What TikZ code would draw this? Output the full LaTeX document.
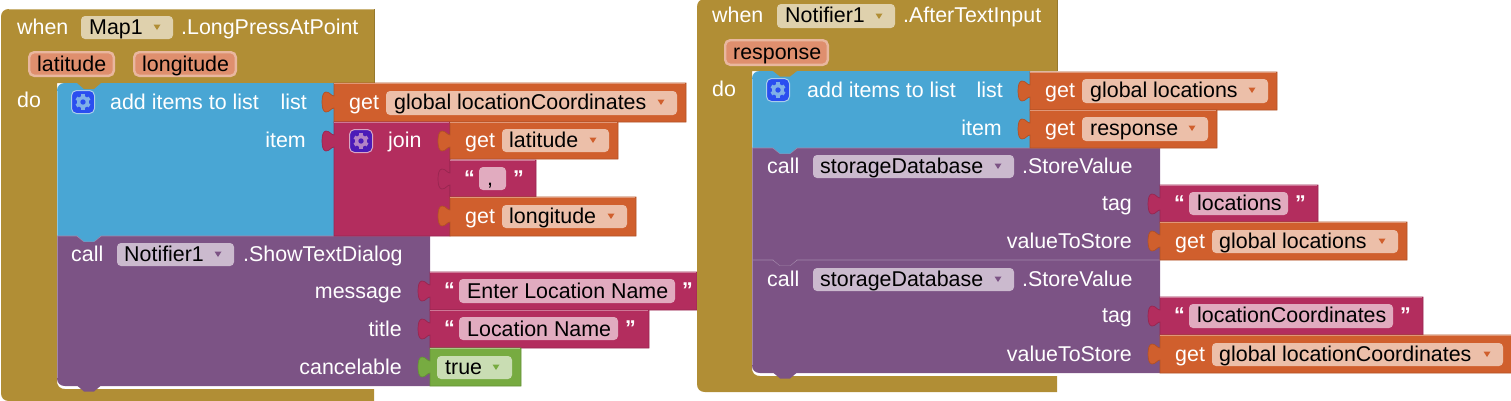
\documentclass[tikz,border=0pt]{standalone}
\usepackage{fontspec}
\setmainfont{Liberation Sans}
\usetikzlibrary{calc}
\definecolor{goldblock}{HTML}{B18E35}
\definecolor{goldfield}{HTML}{DFD1AD}
\definecolor{blueblock}{HTML}{49A6D4}
\definecolor{callblock}{HTML}{7C5385}
\definecolor{callfield}{HTML}{CBBACE}
\definecolor{getblock}{HTML}{D05F2D}
\definecolor{getfield}{HTML}{ECBFA9}
\definecolor{textblock}{HTML}{B32D5E}
\definecolor{textfield}{HTML}{E1ABBF}
\definecolor{logicblock}{HTML}{77AB41}
\definecolor{logicfield}{HTML}{C9DDB3}
\definecolor{pillfill}{HTML}{DF8F6E}
\definecolor{pillline}{HTML}{E9B79F}
\definecolor{iconblue}{HTML}{2A4EF0}
\definecolor{iconblueline}{HTML}{A9CDEB}
\definecolor{gearblue}{HTML}{7FB0E8}
\definecolor{iconviolet}{HTML}{4A1BB8}
\definecolor{iconvioletline}{HTML}{D8A6C4}
\definecolor{gearviolet}{HTML}{B283C6}
\tikzset{
	lbl/.style={inner sep=0pt, text=white, anchor=base west},
	lblright/.style={inner sep=0pt, text=white, anchor=base east},
	val/.style={inner sep=0pt, text=black, anchor=base west},
	quot/.style={inner sep=0pt, text=white, anchor=base west, font=\fontsize{21.4}{24}\selectfont\bfseries}
}
% event block: left, top, right, head bottom, stem x, bar top, bottom
\def\eventblock(#1,#2,#3,#4,#5,#6,#7){
	\fill[goldblock] (#3,#2) -- (#3,#4) -- (#5,#4) -- (#5,{#6-8}) .. controls (#5,{#6-3}) and ({#5+3},#6) .. ({#5+8},#6) -- (#3,#6) -- (#3,#7) -- ({#1+8},#7) .. controls ({#1+3},#7) and (#1,{#7-3}) .. (#1,{#7-8}) -- (#1,{#2+8}) .. controls (#1,{#2+3}) and ({#1+3},#2) .. ({#1+8},#2) -- cycle;
	\draw[goldblock!65!white, line width=0.8] ({#1+8},{#2+0.5}) -- (#3,{#2+0.5});
	\draw[goldblock!85!black, line width=0.8] (#3,#2) -- (#3,#4);
}
% value block with a puzzle tab on the left
\def\valueblock[#1](#2,#3)(#4,#5){
	\draw[fill=#1, draw=#1!85!black, line width=0.7] (#2,#3) -- (#4,#3) -- (#4,#5) -- (#2,#5) -- (#2,{#3+25})
		.. controls ({#2-3},{#3+25}) and ({#2-4},{#3+29}) .. ({#2-8},{#3+29})
		.. controls ({#2-11},{#3+29}) and ({#2-12},{#3+24}) .. ({#2-12},{#3+19})
		.. controls ({#2-12},{#3+14}) and ({#2-11},{#3+9}) .. ({#2-8},{#3+9})
		.. controls ({#2-4},{#3+9}) and ({#2-3},{#3+13}) .. (#2,{#3+13}) -- cycle;
	\draw[#1!65!white, line width=0.8] (#2,{#3+0.5}) -- ({#4-1},{#3+0.5});
}
% small tab under a stack block, x centre and y of the edge
\def\stacktab[#1](#2,#3){\fill[#1] ({#2-12},#3) -- ({#2-5},{#3+6}) -- ({#2+5},{#3+6}) -- ({#2+12},#3) -- cycle;}
\def\stackline[#1](#2,#3,#4,#5){\draw[#1!70!white, line width=0.9] (#2,#3) -- ({#5-12},#3) -- ({#5-5},{#3+5.5}) -- ({#5+5},{#3+5.5}) -- ({#5+12},#3) -- (#4,#3);}
\def\slot[#1](#2,#3)(#4,#5){\fill[#1, rounded corners=4] (#2,#3) rectangle (#4,#5);}
\def\droparrow[#1](#2,#3){\fill[#1] ({#2-3.5},{#3-2.5}) -- ({#2+3.5},{#3-2.5}) -- (#2,{#3+3}) -- cycle;}
\def\paramslot(#1,#2,#3,#4){\draw[fill=pillfill, draw=pillline, line width=2.4, rounded corners=5] ({#1+1.2},{#2+1.2}) rectangle ({#3-1.2},{#4-1.2});}
\def\gearicon[#1,#2,#3](#4,#5){
	\draw[fill=#1, draw=#2, line width=1, rounded corners=5] ({#4-11.5},{#5-11.5}) rectangle ({#4+11.5},{#5+11.5});
	\foreach \a in {30,90,...,330} \draw[#3, line width=3.6] ($(#4,#5)+(\a:4)$) -- ($(#4,#5)+(\a:7.6)$);
	\fill[#3] (#4,#5) circle (6);
	\fill[#1] (#4,#5) circle (2.7);
}

\begin{document}
\begin{tikzpicture}[x=1pt, y=-1pt, font=\fontsize{21.4}{24}\selectfont]
	\useasboundingbox (0,0) rectangle (1511,400);
	%%%%% LEFT BLOCK %%%%%
	\eventblock(1,9,374,83,57,389,401);
	\node[lbl] (whenA) at (17,34) {when};
	\slot[goldfield](81,16)(173,39);
	\node[val] (mapA) at (89,34) {Map1};
	\droparrow[goldblock](157,27);
	\node[lbl] (eventA) at (181,34) {.LongPressAtPoint};
	\paramslot(28,51,115,77);
	\node[val] (latA) at (37,71) {latitude};
	\paramslot(133,51,237,77);
	\node[val] (lonA) at (142,71) {longitude};
	\node[lbl] (doA) at (17,107) {do};

	\fill[blueblock] (57,236) -- (57,91) .. controls (57,86) and (60,83) .. (65,83) -- (334,83) -- (334,236) -- cycle;
	\fill[goldblock] (77,83) -- (84,89) -- (94,89) -- (101,83) -- cycle;
	\draw[blueblock!65!white, line width=0.9] (57,236) -- (57,91);
	\gearicon[iconblue,iconblueline,gearblue](83,102);
	\node[lbl] (addA) at (110,109) {add items to list};
	\node[lblright] (listA) at (307,109) {list};
	\node[lblright] (itemA) at (306,147) {item};

	\fill[callblock] (57,236) -- (430,236) -- (430,386) -- (65,386) .. controls (60,386) and (57,383) .. (57,378) -- cycle;
	\stackline[callblock](57,236,430,89);
	\stacktab[blueblock](89,235.5);
	\stacktab[callblock](89,385.5);
	\draw[callblock!70!white, line width=0.9] (57,236) -- (57,378);
	\node[lbl] (callA) at (71,261) {call};
	\slot[callfield](117,243)(234,266);
	\node[val] (notA) at (124,261) {Notifier1};
	\droparrow[callblock](218,254);
	\node[lbl] (showA) at (243,261) {.ShowTextDialog};
	\node[lblright] (msgA) at (402,298) {message};
	\node[lblright] (titleA) at (402,336) {title};
	\node[lblright] (cancelA) at (402,374) {cancelable};

	\valueblock[getblock](334,83)(686,122);
	\node[lbl] (getA) at (349,109) {get};
	\slot[getfield](386,91)(677,115);
	\node[val] (globalA) at (394,109) {global locationCoordinates};
	\droparrow[getblock](661,102);

	\valueblock[textblock](334,122)(450,236);
	\gearicon[iconviolet,iconvioletline,gearviolet](361,141);
	\node[lbl] (joinA) at (388,147) {join};

	\valueblock[getblock](450,122)(618,159);
	\node[lbl] (getB) at (465,147) {get};
	\slot[getfield](502,129)(609,152);
	\node[val] (latB) at (509,147) {latitude};
	\droparrow[getblock](593,140);

	\valueblock[textblock](450,160)(536,197);
	\node[quot] (openA) at (464,185) {“};
	\slot[textfield](479,167)(506,190);
	\node[val] (commaA) at (487,185) {,};
	\node[quot] (closeA) at (513,185) {”};

	\valueblock[getblock](450,197)(636,236);
	\node[lbl] (getC) at (465,223) {get};
	\slot[getfield](502,205)(627,228);
	\node[val] (lonB) at (509,223) {longitude};
	\droparrow[getblock](611,216);

	\valueblock[textblock](430,272)(697,310);
	\node[quot] (openB) at (444,297) {“};
	\slot[textfield](459,279)(675,303);
	\node[val] (enterA) at (467,298) {Enter Location Name};
	\node[quot] (closeB) at (682,297) {”};

	\valueblock[textblock](430,310)(649,348);
	\node[quot] (openC) at (444,335) {“};
	\slot[textfield](459,317)(618,340);
	\node[val] (nameA) at (467,336) {Location Name};
	\node[quot] (closeC) at (625,335) {”};

	\valueblock[logicblock](430,348)(521,386);
	\slot[logicfield](437,356)(512,379);
	\node[val] (trueA) at (445,374) {true};
	\droparrow[logicblock](496,367);

	%%%%% RIGHT BLOCK %%%%%
	\eventblock(697,-1,1057,71,752,376,392);
	\node[lbl] (whenB) at (712,22) {when};
	\slot[goldfield](777,4)(895,28);
	\node[val] (notB) at (785,22) {Notifier1};
	\droparrow[goldblock](879,16);
	\node[lbl] (eventB) at (903,22) {.AfterTextInput};
	\paramslot(724,39,829,66);
	\node[val] (respA) at (733,59) {response};
	\node[lbl] (doB) at (712,96) {do};

	\fill[blueblock] (752,148) -- (752,79) .. controls (752,74) and (755,71) .. (760,71) -- (1030,71) -- (1030,148) -- cycle;
	\fill[goldblock] (773,71) -- (780,76.5) -- (790,76.5) -- (797,71) -- cycle;
	\draw[blueblock!65!white, line width=0.9] (752,148) -- (752,79);
	\gearicon[iconblue,iconblueline,gearblue](778,90);
	\node[lbl] (addB) at (807,97) {add items to list};
	\node[lblright] (listB) at (1003,97) {list};
	\node[lblright] (itemB) at (1002,135) {item};

	\fill[callblock] (752,148) -- (1160,148) -- (1160,373) -- (760,373) .. controls (755,373) and (752,370) .. (752,365) -- cycle;
	\stackline[callblock](752,148,1160,785);
	\stacktab[blueblock](785,147.5);
	\stackline[callblock](752,260,1160,785);
	\stacktab[callblock](785,259.5);
	\stacktab[callblock](785,372.5);
	\draw[callblock!70!white, line width=0.9] (752,148) -- (752,365);

	\node[lbl] (callB) at (767,173) {call};
	\slot[callfield](813,155)(1014,178);
	\node[val] (dbA) at (820,173) {storageDatabase};
	\droparrow[callblock](998,166);
	\node[lbl] (storeA) at (1022,173) {.StoreValue};
	\node[lblright] (tagA) at (1132,210) {tag};
	\node[lblright] (valueA) at (1132,248) {valueToStore};

	\node[lbl] (callC) at (767,286) {call};
	\slot[callfield](813,268)(1014,291);
	\node[val] (dbB) at (820,286) {storageDatabase};
	\droparrow[callblock](998,279);
	\node[lbl] (storeB) at (1022,286) {.StoreValue};
	\node[lblright] (tagB) at (1132,322) {tag};
	\node[lblright] (valueB) at (1132,361) {valueToStore};

	\valueblock[getblock](1030,72)(1277,110);
	\node[lbl] (getD) at (1045,97) {get};
	\slot[getfield](1082,79)(1268,103);
	\node[val] (globalB) at (1090,97) {global locations};
	\droparrow[getblock](1252,90);

	\valueblock[getblock](1030,110)(1217,148);
	\node[lbl] (getE) at (1045,135) {get};
	\slot[getfield](1082,117)(1208,141);
	\node[val] (respB) at (1090,135) {response};
	\droparrow[getblock](1192,128);

	\valueblock[textblock](1160,185)(1318,222);
	\node[quot] (openD) at (1174,210) {“};
	\slot[textfield](1189,192)(1288,215);
	\node[val] (locA) at (1197,210) {locations};
	\node[quot] (closeD) at (1295,210) {”};

	\valueblock[getblock](1160,222)(1407,260);
	\node[lbl] (getF) at (1175,248) {get};
	\slot[getfield](1212,230)(1398,253);
	\node[val] (globalC) at (1219,248) {global locations};
	\droparrow[getblock](1382,241);

	\valueblock[textblock](1160,297)(1423,335);
	\node[quot] (openE) at (1174,322) {“};
	\slot[textfield](1189,304)(1393,328);
	\node[val] (coordA) at (1197,322) {locationCoordinates};
	\node[quot] (closeE) at (1400,322) {”};

	\valueblock[getblock](1160,335)(1512,373);
	\node[lbl] (getG) at (1175,361) {get};
	\slot[getfield](1212,343)(1503,366);
	\node[val] (globalD) at (1219,361) {global locationCoordinates};
	\droparrow[getblock](1487,354);
	%%%%% END %%%%%
\end{tikzpicture}
\end{document}
